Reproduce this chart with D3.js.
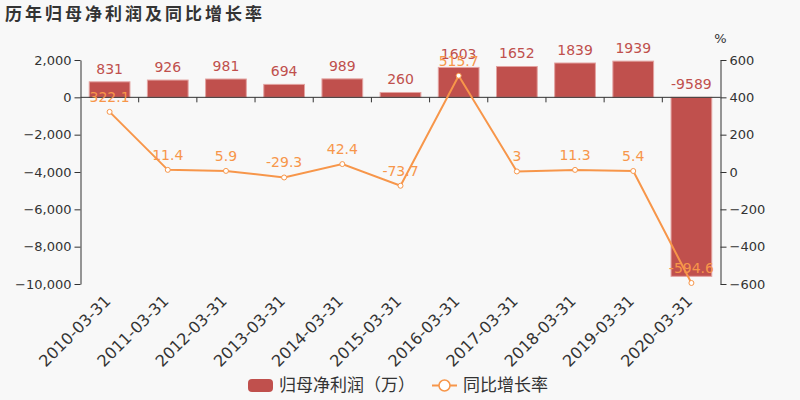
<!DOCTYPE html>
<html>
<head>
<meta charset="utf-8">
<script src="https://cdn.jsdelivr.net/npm/d3@7"></script>
<style>
	html, body { margin: 0; padding: 0; background: #f8f8f8; }
	svg { display: block; font-family: "DejaVu Sans", "Noto Sans CJK SC", sans-serif; }
</style>
</head>
<body>
<div id="chart"></div>
<script>
	// data
	var categories = ["2010-03-31", "2011-03-31", "2012-03-31", "2013-03-31", "2014-03-31", "2015-03-31",
		"2016-03-31", "2017-03-31", "2018-03-31", "2019-03-31", "2020-03-31"];
	var profit = [831, 926, 981, 694, 989, 260, 1603, 1652, 1839, 1939, -9589];
	var growth = [322.1, 11.4, 5.9, -29.3, 42.4, -73.7, 515.7, 3, 11.3, 5.4, -594.6];
	var leftTicks = [2000, 0, -2000, -4000, -6000, -8000, -10000];
	var rightTicks = [600, 400, 200, 0, -200, -400, -600];

	var title = "历年归母净利润及同比增长率";
	var barName = "归母净利润（万）";
	var lineName = "同比增长率";

	var width = 800, height = 400;
	var margin = {left: 80.5, right: 79.5, top: 60, bottom: 116};
	var barColor = "#c0504d";
	var lineColor = "#f7964a";
	var textColor = "#333";

	var svg = d3.select("#chart").append("svg")
		.attr("width", width)
		.attr("height", height);

	svg.append("rect").attr("width", width).attr("height", height).attr("fill", "#f8f8f8");

	// title
	svg.append("text")
		.attr("x", 5)
		.attr("y", 20)
		.attr("fill", textColor)
		.style("font-size", "17px")
		.style("font-weight", "bold")
		.style("letter-spacing", "3px")
		.text(title);

	var x = d3.scaleBand()
		.domain(categories)
		.range([margin.left, width - margin.right])
		.paddingInner(0.3)
		.paddingOuter(0.15);

	// plain band scale for the axis ticks between categories
	var band = d3.scaleBand().domain(categories).range([margin.left, width - margin.right]);

	var yLeft = d3.scaleLinear().domain([-10000, 2000]).range([height - margin.bottom, margin.top]);
	var yRight = d3.scaleLinear().domain([-600, 600]).range([height - margin.bottom, margin.top]);

	// axes
	var leftAxis = svg.append("g")
		.attr("transform", `translate(${margin.left},0)`)
		.call(d3.axisLeft(yLeft).tickValues(leftTicks).tickFormat(d3.format(",")).tickSizeOuter(0));

	var rightAxis = svg.append("g")
		.attr("transform", `translate(${width - margin.right},0)`)
		.call(d3.axisRight(yRight).tickValues(rightTicks).tickSizeOuter(0));

	[leftAxis, rightAxis].forEach(function(g){
		g.select(".domain").attr("stroke", textColor);
		g.selectAll(".tick line").attr("stroke", textColor);
		g.selectAll(".tick text")
			.attr("fill", textColor)
			.style("font-size", "13px")
			.style("font-family", "DejaVu Sans");
	});

	svg.append("text")
		.attr("x", width - margin.right)
		.attr("y", 43)
		.attr("text-anchor", "middle")
		.attr("fill", textColor)
		.style("font-size", "13px")
		.text("%");

	// bars
	svg.append("g").selectAll("rect")
		.data(profit)
		.join("rect")
		.attr("x", (d, i) => x(categories[i]))
		.attr("width", x.bandwidth())
		.attr("y", d => yLeft(Math.max(0, d)))
		.attr("height", d => Math.abs(yLeft(d) - yLeft(0)))
		.attr("fill", barColor)
		.attr("stroke", "#e3a3a1")
		.attr("stroke-width", 1);

	// x axis at zero
	var xAxisG = svg.append("g");
	xAxisG.append("line")
		.attr("x1", margin.left).attr("x2", width - margin.right)
		.attr("y1", yLeft(0)).attr("y2", yLeft(0))
		.attr("stroke", textColor);
	xAxisG.selectAll("line.tk")
		.data(categories.slice(1))
		.join("line")
		.attr("class", "tk")
		.attr("x1", d => band(d)).attr("x2", d => band(d))
		.attr("y1", yLeft(0)).attr("y2", yLeft(0) + 5)
		.attr("stroke", textColor);

	// category labels, rotated under the plot
	svg.append("g").selectAll("text")
		.data(categories)
		.join("text")
		.attr("transform", d => `translate(${band(d) + band.bandwidth() / 2 + 2},${height - margin.bottom + 18}) rotate(-45)`)
		.attr("text-anchor", "end")
		.attr("fill", textColor)
		.style("font-size", "16px")
		.text(d => d);

	// bar labels
	svg.append("g").selectAll("text")
		.data(profit)
		.join("text")
		.attr("x", (d, i) => x(categories[i]) + x.bandwidth() / 2)
		.attr("y", d => yLeft(Math.max(0, d)) - 8)
		.attr("text-anchor", "middle")
		.attr("fill", barColor)
		.style("font-size", "14px")
		.text(d => d);

	// growth line
	var cx = (d, i) => x(categories[i]) + x.bandwidth() / 2;
	var line = d3.line()
		.x(cx)
		.y(d => yRight(d));

	svg.append("path")
		.attr("d", line(growth))
		.attr("fill", "none")
		.attr("stroke", lineColor)
		.attr("stroke-width", 2);

	svg.append("g").selectAll("circle")
		.data(growth)
		.join("circle")
		.attr("cx", cx)
		.attr("cy", d => yRight(d))
		.attr("r", 2.5)
		.attr("fill", "#fff")
		.attr("stroke", lineColor)
		.attr("stroke-width", 1);

	svg.append("g").selectAll("text")
		.data(growth)
		.join("text")
		.attr("x", cx)
		.attr("y", d => yRight(d) - 10)
		.attr("text-anchor", "middle")
		.attr("fill", lineColor)
		.style("font-size", "14px")
		.text(d => d);

	// legend
	var legend = svg.append("g");
	legend.append("rect")
		.attr("x", 248).attr("y", 379)
		.attr("width", 25).attr("height", 13)
		.attr("rx", 4)
		.attr("fill", barColor);
	legend.append("text")
		.attr("x", 279).attr("y", 391)
		.attr("fill", textColor)
		.style("font-size", "17px")
		.style("font-family", "Noto Sans CJK SC")
		.text(barName);
	legend.append("line")
		.attr("x1", 432).attr("x2", 457)
		.attr("y1", 385.5).attr("y2", 385.5)
		.attr("stroke", lineColor)
		.attr("stroke-width", 2);
	legend.append("circle")
		.attr("cx", 444.5).attr("cy", 385.5)
		.attr("r", 5.5)
		.attr("fill", "#fff")
		.attr("stroke", lineColor)
		.attr("stroke-width", 1.5);
	legend.append("text")
		.attr("x", 463).attr("y", 391)
		.attr("fill", textColor)
		.style("font-size", "17px")
		.style("font-family", "Noto Sans CJK SC")
		.text(lineName);
</script>
</body>
</html>
